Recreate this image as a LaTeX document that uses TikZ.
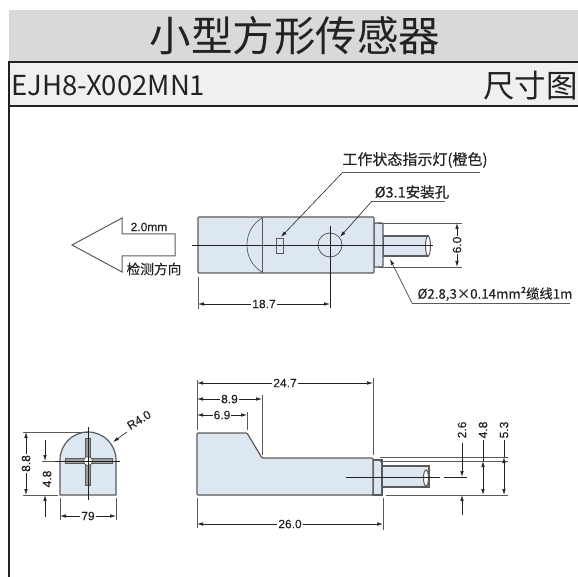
\documentclass[tikz,border=0pt]{standalone}
\usepackage{fontspec}
\usepackage{xcolor}
\setmainfont{Liberation Sans}
\newfontfamily\cjkfont{Noto Sans CJK SC}
\newfontfamily\notefont[FakeBold=0.3]{Noto Sans CJK SC}
\newfontfamily\dimfont[FakeBold=0.2]{Liberation Sans}
\definecolor{bodyblue}{HTML}{DCE7F1}
\definecolor{bandgray}{HTML}{D9D9D9}
\definecolor{rowgray}{HTML}{F0F0F0}
\definecolor{linegray}{HTML}{5A5A5A}
\definecolor{inkgray}{HTML}{222222}
\usetikzlibrary{arrows.meta, positioning, calc}

\begin{document}
\begin{tikzpicture}[
    x=1pt, y=-1pt,
    >={Latex[length=6pt,width=3.5pt]},
    part/.style={draw=linegray, fill=bodyblue, line width=1.2pt, rounded corners=1pt},
    outline/.style={draw=linegray, line width=1pt},
    thin line/.style={draw=inkgray, line width=0.6pt},
    dimline/.style={thin line, <->},
    oneway/.style={thin line, ->},
    extline/.style={draw=linegray, line width=0.7pt},
    dimtext/.style={fill=white, inner sep=1pt, text=inkgray, font=\dimfont\fontsize{12}{12}\selectfont},
    dimvert/.style={dimtext, rotate=90},
    note/.style={inner sep=0pt, text=inkgray}
]
    \useasboundingbox (0,0) rectangle (578,577);

    % header rows
    \fill[bandgray] (9,10) rectangle (578,62);
    \fill[rowgray] (9,62) rectangle (578,106);
    \draw[line width=1.2pt, draw=inkgray] (578,62) -- (9,62) -- (9,577);
    \draw[line width=1.2pt, draw=inkgray] (9,106) -- (578,106);
    \node[inner sep=0pt, text=inkgray, font=\cjkfont\fontsize{41.5}{41.5}\selectfont] (title) at (295,36) {小型方形传感器};
    \node[inner sep=0pt, anchor=west, text=inkgray, font=\cjkfont\fontsize{27.5}{28}\selectfont] (model) at (11,86) {EJH8-X002MN1};
    \node[inner sep=0pt, anchor=east, text=inkgray, font=\cjkfont\fontsize{31.5}{32}\selectfont] (kind) at (578,86) {尺寸图};

    % detection arrow
    \draw[draw=linegray, line width=1pt] (175,234) -- (122,234) -- (122,218) -- (72,245) -- (122,272) -- (122,256) -- (175,256) -- cycle;
    \node[dimtext, fill=none] (range) at (149,227) {2.0mm};
    \node[note, font=\notefont\fontsize{13.7}{14}\selectfont] (direction) at (154,269) {检测方向};

    % top view: cable
    \path[part, rounded corners=0pt] (383,236) -- (428,236) -- (428,256) -- (383,256) -- cycle;
    \draw[outline, fill=white] (428,246) ellipse (2.5pt and 10pt);
    \path[part] (374,223) -- (383,223) -- (383,267) -- (374,267) -- cycle;

    % top view: body
    \path[part] (198,217) rectangle (374,273);
    \draw[outline] (262,217) -- (262,273);
    \draw[outline, line width=0.7pt] (262,218) .. controls (252,224) and (247,234) .. (247,245) .. controls (247,256) and (252,266) .. (262,272);
    \draw[outline, fill=bodyblue, line width=0.8pt] (276,238) rectangle (283,253);
    \node[circle, draw=linegray, line width=0.8pt, minimum size=24pt, inner sep=0pt] (hole) at (330,245) {};
    \draw[thin line] (192,245) -- (433,245);
    \draw[thin line] (330,226) -- (330,308);

    % top view: dimensions
    \draw[extline] (198,277) -- (198,309);
    \draw[dimline] (198,304) -- node[dimtext] (lenled) {18.7} (330,304);
    \draw[extline] (378,223) -- (462,223);
    \draw[extline] (378,267) -- (462,267);
    \draw[dimline] (457,223) -- node[dimvert] (width) {6.0} (457,267);

    % top view: notes
    \node[note, font=\notefont\fontsize{15}{15}\selectfont] (ledtext) at (415,160) {工作状态指示灯(橙色)};
    \coordinate (ledbend) at (343,172);
    \draw[extline] (480,172) -- (ledbend);
    \draw[oneway] (ledbend) -- (281,237);
    \node[note, font=\notefont\fontsize{14.5}{15}\selectfont] (holetext) at (412,192) {Ø3.1安装孔};
    \coordinate (holebend) at (372,201);
    \draw[extline] (445,201) -- (holebend);
    \draw[oneway] (holebend) -- (340,237);
    \node[note, font=\notefont\fontsize{13.3}{14}\selectfont] (cabletext) at (495,294) {Ø2.8,3×0.14mm²缆线1m};
    \coordinate (cablebend) at (412,303);
    \draw[extline] (570,303) -- (cablebend);
    \draw[oneway] (cablebend) -- (390,259);

    % front view
    \path[part, rounded corners=0pt] (60,495) -- (60,460) .. controls (60,444.5) and (72.5,432) .. (88,432) .. controls (103.5,432) and (116,444.5) .. (116,460) -- (116,495) -- cycle;
    \draw[outline, fill=linegray!60, line width=0.7pt] (85.5,438) rectangle (90.5,485);
    \draw[outline, fill=linegray!60, line width=0.7pt] (65,458.5) rectangle (112,463.5);
    \node[circle, draw=linegray, fill=white, line width=0.7pt, minimum size=9pt, inner sep=0pt] (cross) at (88,461) {};
    \draw[thin line] (55,461) -- (120,461);
    \draw[thin line] (88,427) -- (88,500);

    % front view: dimensions
    \draw[extline] (23,432) -- (88,432);
    \draw[extline] (23,495) -- (58,495);
    \draw[dimline] (26,432) -- node[dimvert] (height) {8.8} (26,495);
    \draw[extline] (42,461) -- (55,461);
    \draw[oneway] (45,440) -- (45,461);
    \draw[oneway] (45,517) -- (45,495);
    \node[dimvert, fill=none] (lowpart) at (47,479) {4.8};
    \draw[extline] (60,498) -- (60,520);
    \draw[extline] (116,498) -- (116,520);
    \draw[dimline] (60,516) -- node[dimtext] (fwidth) {79} (116,516);
    \coordinate (radbend) at (127,432);
    \draw[oneway] (radbend) -- (113,442);
    \node[dimtext, fill=none, rotate=32] (radius) at (139,420) {R4.0};

    % side view: cable
    \path[part, rounded corners=0pt] (382,466) -- (429,466) -- (429,487) -- (382,487) -- cycle;
    \draw[outline, fill=white] (426,478) ellipse (2.5pt and 8pt);
    \path[part, rounded corners=0pt] (373,460) -- (382,460) -- (382,495) -- (373,495) -- cycle;

    % side view: body
    \path[part] (197,495) -- (197,433) -- (247,433) -- (262,458) -- (373,458) -- (373,495) -- cycle;
    \draw[thin line] (346,477) -- (440,477);
    \draw[thin line] (444,477) -- (467,477);

    % side view: dimensions
    \draw[extline] (197,380) -- (197,430);
    \draw[extline] (373,378) -- (373,455);
    \draw[extline] (247,412) -- (247,430);
    \draw[extline] (262,395) -- (262,455);
    \draw[extline] (197,498) -- (197,528);
    \draw[extline] (383,498) -- (383,530);
    \draw[dimline] (197,383) -- node[dimtext] (total) {24.7} (373,383);
    \draw[dimline] (197,399) -- node[dimtext] (slopeend) {8.9} (262,399);
    \draw[dimline] (197,415) -- node[dimtext] (slopestart) {6.9} (247,415);
    \draw[dimline] (197,524) -- node[dimtext] (overall) {26.0} (383,524);

    \draw[extline] (380,457) -- (508,457);
    \draw[extline] (380,461) -- (508,461);
    \draw[extline] (386,495) -- (508,495);
    \draw[oneway] (462,443) -- (462,477);
    \draw[oneway] (462,515) -- (462,495);
    \draw[thin line] (483,440) -- (483,461);
    \draw[dimline] (483,461) -- (483,495);
    \draw[thin line] (504,440) -- (504,457);
    \draw[dimline] (504,457) -- (504,495);
    \node[dimvert, fill=none] (cableh) at (462,430) {2.6};
    \node[dimvert, fill=none] (collarh) at (483,430) {4.8};
    \node[dimvert, fill=none] (bodyh) at (504,430) {5.3};
\end{tikzpicture}
\end{document}
